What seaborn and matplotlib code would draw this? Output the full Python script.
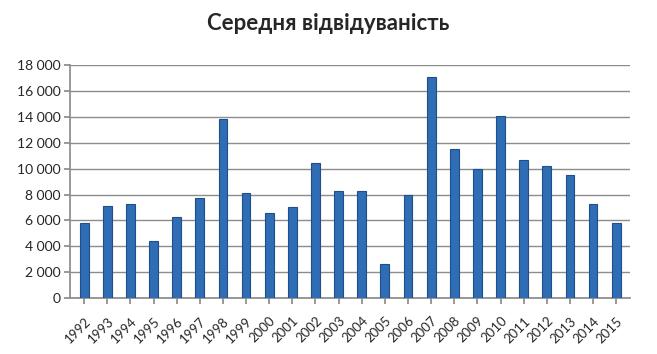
import matplotlib
matplotlib.use("Agg")
import matplotlib.pyplot as plt
import seaborn as sns
import pandas as pd
from matplotlib.ticker import FuncFormatter

years = [str(y) for y in range(1992, 2016)]
attendance = [5800, 7100, 7300, 4400, 6300, 7700, 13800, 8100, 6600, 7000,
              10400, 8300, 8300, 2600, 8000, 17100, 11500, 10000, 14100, 10700,
              10200, 9500, 7300, 5800]
yticks = list(range(0, 18001, 2000))
title = "Середня відвідуваність"

df = pd.DataFrame({"year": years, "value": attendance})

sns.set_theme(style="white")
plt.rcParams["font.family"] = ["Lato", "DejaVu Sans"]

fig = plt.figure(figsize=(6.57, 3.54), dpi=100)
ax = fig.add_axes([0.107, 0.158, 0.852, 0.658])

sns.barplot(data=df, x="year", y="value", color="#2F6DB5", width=0.38,
            edgecolor="#1F4F8A", linewidth=0.8, saturation=1, ax=ax, zorder=3)

ax.set_ylim(0, 18000)
ax.set_yticks(yticks)
ax.yaxis.set_major_formatter(FuncFormatter(lambda v, p: f"{int(v):,}".replace(",", " ")))
ax.grid(axis="y", color="#8C8C8C", linewidth=1.0, zorder=0)
ax.set_xlim(-0.6, len(years) - 0.4)

for s in ["top", "right"]:
    ax.spines[s].set_visible(False)
ax.spines["left"].set_color("#8C8C8C")
ax.spines["bottom"].set_color("#8C8C8C")

ax.tick_params(axis="y", labelsize=10, length=4, color="#8C8C8C", left=True, pad=3)
ax.tick_params(axis="x", labelsize=9.5, length=4, color="#8C8C8C", bottom=True, pad=8)
for lbl in ax.get_xticklabels():
    lbl.set_rotation(45)
    lbl.set_ha("right")
    lbl.set_rotation_mode("anchor")

ax.set_xlabel("")
ax.set_ylabel("")
fig.text(0.5, 0.935, title, ha="center", va="center", fontsize=16, fontweight="bold")

fig.savefig("out.png", dpi=100, facecolor="white")
